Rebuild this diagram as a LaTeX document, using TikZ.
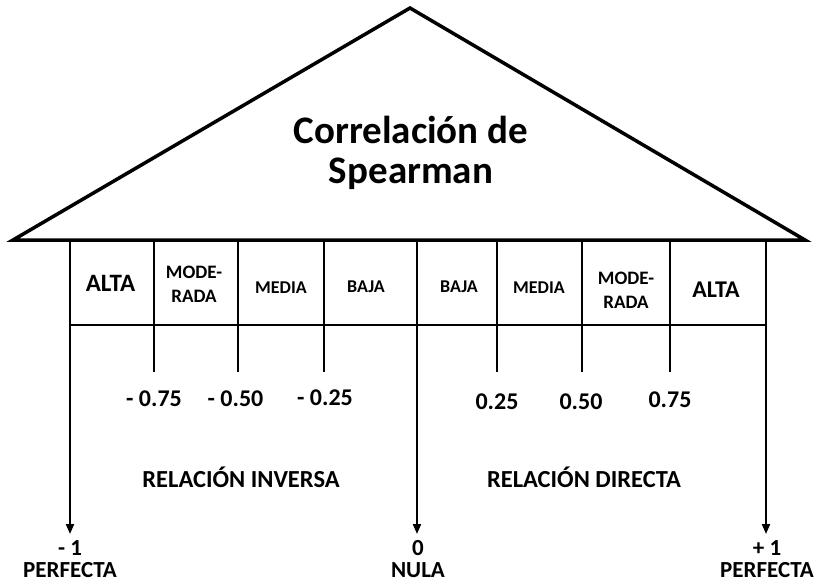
\documentclass[tikz,border=0pt]{standalone}
\usepackage{fontspec}
\setmainfont{Carlito}
\usetikzlibrary{arrows.meta,calc}
\newcommand{\fsz}[2]{\fontsize{#1}{#2}\selectfont\bfseries}
\begin{document}
\begin{tikzpicture}[x=1pt,y=-1pt,
  roof/.style={line width=3.5pt,line join=miter,miter limit=20},
  gridline/.style={line width=2.2pt},
  arr/.style={line width=2pt,-{Triangle[length=10pt,width=8pt]}},
  txt/.style={inner sep=0pt,anchor=base,align=center},
  big/.style={txt,font=\fsz{25}{28}},
  cell/.style={txt,font=\fsz{18}{23.5}},
  two/.style={txt,font=\fsz{19}{23.5}},
  num/.style={txt,font=\fsz{24}{28}},
  rel/.style={txt,font=\fsz{24.5}{28}},
  bot/.style={txt,font=\fsz{23}{22}},
  title/.style={txt,font=\fsz{39}{40}}]
\useasboundingbox (0,0) rectangle (819,584);
% roof
\coordinate (apex) at (410,8);
\coordinate (bl) at (13,240);
\coordinate (br) at (805,240);
\draw[roof] (bl) -- (apex) -- (br) -- cycle;
\node[title] (ttl) at (411,183) {Correlación de\\Spearman};
% column coordinates
\foreach \i/\x in {0/70,1/154,2/238,3/324,4/417,5/497,6/582,7/670,8/766}{
  \coordinate (t\i) at (\x,241);
  \coordinate (m\i) at (\x,325);
}
\foreach \i in {1,2,3,5,6,7}{
  \coordinate (b\i) at ($(m\i)+(0,47)$);
}
\draw[gridline] (m0) -- (m8);
\foreach \i in {1,2,3,5,6,7}{
  \draw[gridline] (t\i) -- (b\i);
}
% arrows
\coordinate (e0) at (70,534);
\coordinate (e4) at (417,534);
\coordinate (e8) at (766,534);
\draw[arr] (t0) -- (e0);
\draw[arr] (t4) -- (e4);
\draw[arr] (t8) -- (e8);
% cell labels
\node[big] (c1) at (110.5,291) {ALTA};
\node[two] (c2) at (194,302) {MODE-\\RADA};
\node[cell] (c3) at (281,293) {MEDIA};
\node[cell] (c4) at (366,292.5) {BAJA};
\node[cell] (c5) at (459,292) {BAJA};
\node[cell] (c6) at (539,293) {MEDIA};
\node[two] (c7) at (626,308) {MODE-\\RADA};
\node[big,font=\fsz{24}{28}] (c8) at (716,297) {ALTA};
% values
\node[num] (v1) at (154,406.5) {- 0.75};
\node[num] (v2) at (235.5,406.5) {- 0.50};
\node[num] (v3) at (325,405) {- 0.25};
\node[num] (v5) at (497,409.5) {0.25};
\node[num] (v6) at (581,409.5) {0.50};
\node[num] (v7) at (670,407.5) {0.75};
% relations
\node[rel] (rinv) at (241,487) {RELACIÓN INVERSA};
\node[rel] (rdir) at (584,487) {RELACIÓN DIRECTA};
% bottom labels
\node[bot] (l0) at (70,577) {- 1\\PERFECTA};
\node[bot] (l4) at (418,577) {0\\NULA};
\node[bot] (l8) at (767,577) {+ 1\\PERFECTA};
\end{tikzpicture}
\end{document}
